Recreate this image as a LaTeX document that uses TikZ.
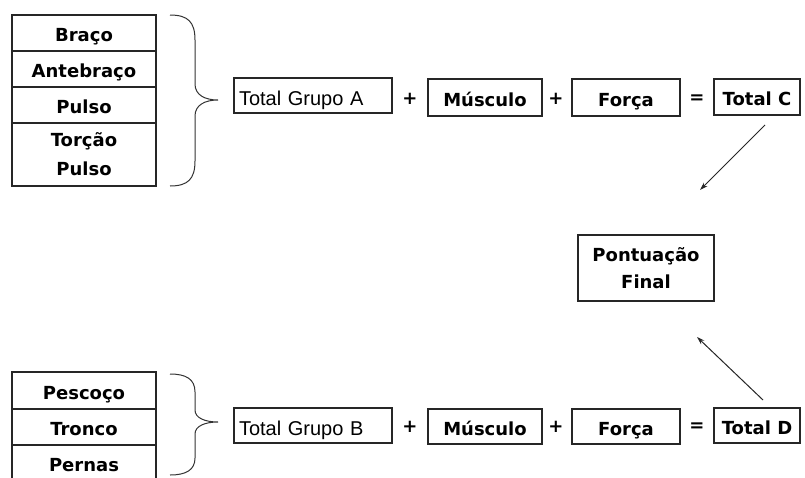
\documentclass[tikz,border=0pt]{standalone}
\usepackage{fontspec}
\setmainfont{Liberation Sans}
\newfontfamily\boldface{DejaVu Sans Bold}
\usetikzlibrary{arrows.meta}
\begin{document}
\begin{tikzpicture}[x=1pt,y=-1pt,
  oneline/.style={text height=17.5pt, text depth=0pt},
  cell/.style={draw=black!85, line width=1.3pt, inner sep=0pt, align=center,
    minimum width=144, font=\fontsize{18}{29}\selectfont\boldface},
  box/.style={draw=black!85, line width=1.1pt, inner sep=0pt, align=center,
    font=\fontsize{18}{27}\selectfont\boldface},
  plainbox/.style={draw=black!85, line width=1.1pt, inner sep=0pt,
    text height=19pt, text depth=0pt, font=\fontsize{20}{24}\selectfont},
  op/.style={inner sep=0pt, font=\fontsize{18}{20}\selectfont\boldface},
  curly/.style={draw=black!80, line width=1pt},
  link/.style={draw=black!85, line width=1pt, -{Stealth[length=8pt,width=5pt]}}]
\useasboundingbox (0,0) rectangle (805,477);
\fill[white] (0,0) rectangle (805,477);

% upper group of body segments
\node[cell, oneline, minimum height=36] (braco) at (84,33) {Braço};
\node[cell, oneline, minimum height=36] (antebraco) at (84,69) {Antebraço};
\node[cell, oneline, minimum height=36] (pulso) at (84,105) {Pulso};
\node[cell, minimum height=63] (torcao) at (84,154.5) {Torção\\Pulso};

% lower group of body segments
\node[cell, oneline, minimum height=37] (pescoco) at (84,390.5) {Pescoço};
\node[cell, oneline, minimum height=36] (tronco) at (84,427) {Tronco};
\node[cell, oneline, minimum height=36] (pernas) at (84,463) {Pernas};

% grouping braces
\draw[curly] (170,15) .. controls (188,15) and (195,22) .. (195,40)
  -- (195,84) .. controls (195,95) and (205,100) .. (218,100)
  .. controls (205,100) and (195,105) .. (195,116)
  -- (195,161) .. controls (195,179) and (188,186) .. (170,186);
\draw[curly] (170,374) .. controls (186,374) and (195,379) .. (195,392)
  -- (195,410) .. controls (195,418) and (205,422) .. (218,422)
  .. controls (205,422) and (195,426) .. (195,434)
  -- (195,458) .. controls (195,470) and (186,475) .. (170,475);

% first sum
\node[plainbox, minimum width=158, minimum height=35, text width=148, align=left] (grupoA) at (313,95.5) {Total Grupo A};
\node[op] (plusA1) at (410,99) {+};
\node[box, oneline, minimum width=114, minimum height=37] (musculoA) at (485,97.5) {Músculo};
\node[op] (plusA2) at (556,99) {+};
\node[box, oneline, minimum width=108, minimum height=37] (forcaA) at (626,97.5) {Força};
\node[op] (eqA) at (697,99) {=};
\node[box, oneline, minimum width=86, minimum height=36] (totalC) at (757,97) {Total C};

% second sum
\node[plainbox, minimum width=158, minimum height=35, text width=148, align=left] (grupoB) at (313,425.5) {Total Grupo B};
\node[op] (plusB1) at (410,427) {+};
\node[box, oneline, minimum width=114, minimum height=35] (musculoB) at (485,426.5) {Músculo};
\node[op] (plusB2) at (556,427) {+};
\node[box, oneline, minimum width=108, minimum height=35] (forcaB) at (626,426.5) {Força};
\node[op] (eqB) at (697,427) {=};
\node[box, oneline, minimum width=86, minimum height=35] (totalD) at (757,425.5) {Total D};

% final score
\node[box, minimum width=136, minimum height=66] (final) at (646,268) {Pontuação\\Final};

% arrows towards the final score
\coordinate (cStart) at (765,125);
\coordinate (cEnd) at (700,190);
\coordinate (dStart) at (763,400);
\coordinate (dEnd) at (697,337);
\draw[link] (cStart) -- (cEnd);
\draw[link] (dStart) -- (dEnd);
\end{tikzpicture}
\end{document}
